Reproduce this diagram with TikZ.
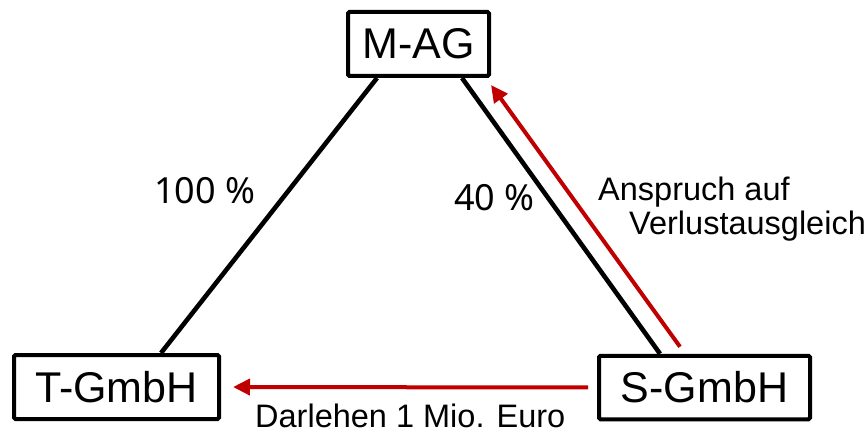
\documentclass[tikz,border=0pt]{standalone}
\usepackage{fontspec}
\setmainfont{Liberation Sans}
\newfontfamily\pctfont{Noto Sans}
\usetikzlibrary{arrows.meta}
\definecolor{darkred}{RGB}{192,0,0}

\begin{document}
\begin{tikzpicture}[x=1pt,y=-1pt,
        entity/.style={draw,line width=4pt,rounded corners=1.5pt,
            minimum height=64pt,inner sep=0pt,font=\fontsize{43}{46}\selectfont},
        redarrow/.style={draw=darkred,line width=4pt,
            -{Triangle[length=17pt,width=16pt]}},
        txt/.style={anchor=base west,inner sep=0pt,font=\fontsize{32.5}{36}\selectfont},
        pct/.style={anchor=base west,inner sep=0pt,font=\pctfont\fontsize{36}{38}\selectfont}]
\useasboundingbox (0,0) rectangle (867,433);

\node[entity,minimum width=141pt] (mag) at (418.5,44) {M-AG};
\node[entity,minimum width=205pt] (tg) at (116.5,387) {T-GmbH};
\node[entity,minimum width=211pt,minimum height=63.5pt] (sg) at (704.5,387.5) {S-GmbH};

\draw[line width=4.6pt] ([xshift=31pt]mag.south west) -- ([xshift=149pt]tg.north west);
\draw[line width=4.6pt] ([xshift=-29pt]mag.south east) -- ([xshift=63pt]sg.north west);

\draw[redarrow] ([xshift=83pt,yshift=7pt]sg.north west) -- ([yshift=-7pt]mag.south east);
\draw[redarrow,shorten <=9pt,shorten >=12pt] (sg.west) -- (tg.east);

\node[pct] (p100) at (154,203) {100 \%};
\node[pct] (p40) at (454,210) {40 \%};
\node[txt] (claim) at (598,200) {Anspruch auf};
\node[txt] (claimb) at (629,234) {Verlustausgleich};
\node[txt] (loan) at (255,427) {Darlehen 1 Mio. Euro};
\end{tikzpicture}
\end{document}
